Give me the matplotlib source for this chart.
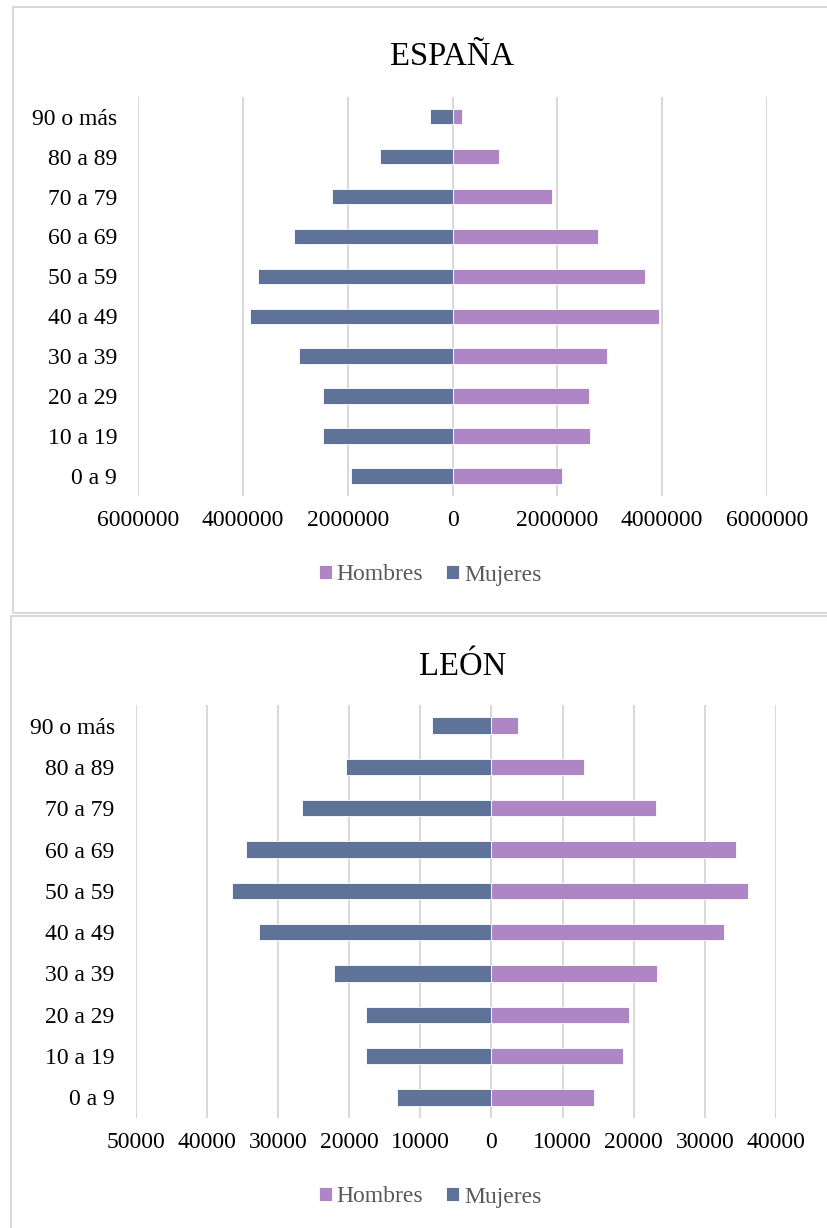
import matplotlib.pyplot as plt
from matplotlib.patches import Rectangle
from matplotlib.ticker import FuncFormatter

plt.rcParams['font.family'] = ['Liberation Serif', 'DejaVu Serif']

grupos = ['0 a 9', '10 a 19', '20 a 29', '30 a 39', '40 a 49',
          '50 a 59', '60 a 69', '70 a 79', '80 a 89', '90 o más']

# España (personas)
espana_hombres = [2080000, 2630000, 2600000, 2950000, 3940000,
                  3680000, 2780000, 1900000, 890000, 180000]
espana_mujeres = [1940000, 2470000, 2480000, 2920000, 3870000,
                  3710000, 3020000, 2290000, 1380000, 430000]

# León (personas)
leon_hombres = [14460, 18460, 19350, 23280, 32690,
                36030, 34320, 23200, 12970, 3780]
leon_mujeres = [13190, 17640, 17640, 22160, 32620,
                36470, 34540, 26610, 20460, 8380]

esp_ticks = [-6000000, -4000000, -2000000, 0, 2000000, 4000000, 6000000]
leon_ticks = [-50000, -40000, -30000, -20000, -10000, 0, 10000, 20000, 30000, 40000]

c_hombres = '#ae86c6'
c_mujeres = '#5f7399'
c_grid = '#d9d9d9'

fig = plt.figure(figsize=(8.27, 12.28), dpi=100)

# marcos de los dos graficos
W, H = 827, 1228
fig.patches.append(Rectangle((13 / W, 1 - 613 / H), 830 / W, 606 / H, transform=fig.transFigure,
                             fill=False, edgecolor=c_grid, linewidth=1.5))
fig.patches.append(Rectangle((10.5 / W, -0.01), 830 / W, 1 - 616 / H + 0.01, transform=fig.transFigure,
                             fill=False, edgecolor=c_grid, linewidth=1.5))


def piramide(ax, hombres, mujeres, ticks, titulo, alto, title_x, title_y, leg_y):
    y = range(len(grupos))
    ax.barh(y, [-m for m in mujeres], height=alto, color=c_mujeres, edgecolor='white',
            linewidth=0.6, label='Mujeres', zorder=3)
    ax.barh(y, hombres, height=alto, color=c_hombres, edgecolor='white',
            linewidth=0.6, label='Hombres', zorder=3)
    ax.set_xlim(ticks[0], ticks[-1])
    ax.set_ylim(-0.5, len(grupos) - 0.5)
    ax.set_xticks(ticks)
    ax.xaxis.set_major_formatter(FuncFormatter(lambda v, p: f'{abs(int(round(v)))}'))
    ax.set_yticks(list(y))
    ax.set_yticklabels(grupos)
    ax.tick_params(axis='x', length=0, pad=10, labelsize=17)
    ax.tick_params(axis='y', length=0, pad=15, labelsize=17)
    ax.grid(axis='x', color=c_grid, linewidth=1.5)
    ax.set_axisbelow(True)
    for s in ax.spines.values():
        s.set_visible(False)
    fig.text(title_x, title_y, titulo, ha='center', va='center', fontsize=23.5)
    h, l = ax.get_legend_handles_labels()
    fig.legend([h[1], h[0]], [l[1], l[0]], loc='center', bbox_to_anchor=(0.52, leg_y),
               ncol=2, frameon=False, fontsize=17, handlelength=0.55, handleheight=0.55,
               handletextpad=0.2, columnspacing=1.0, labelcolor='#595959')


ax1 = fig.add_axes([138 / W, 1 - 496 / H, 629 / W, 399.3 / H])
piramide(ax1, espana_hombres, espana_mujeres, esp_ticks, 'ESPAÑA', 0.39,
         452 / W, 1 - 57 / H, 1 - 575 / H)

ax2 = fig.add_axes([135.5 / W, 1 - 1118 / H, 640.5 / W, 413 / H])
piramide(ax2, leon_hombres, leon_mujeres, leon_ticks, 'LEÓN', 0.395,
         463 / W, 1 - 667 / H, 1 - 1197 / H)

fig.savefig('out.png', dpi=100)
